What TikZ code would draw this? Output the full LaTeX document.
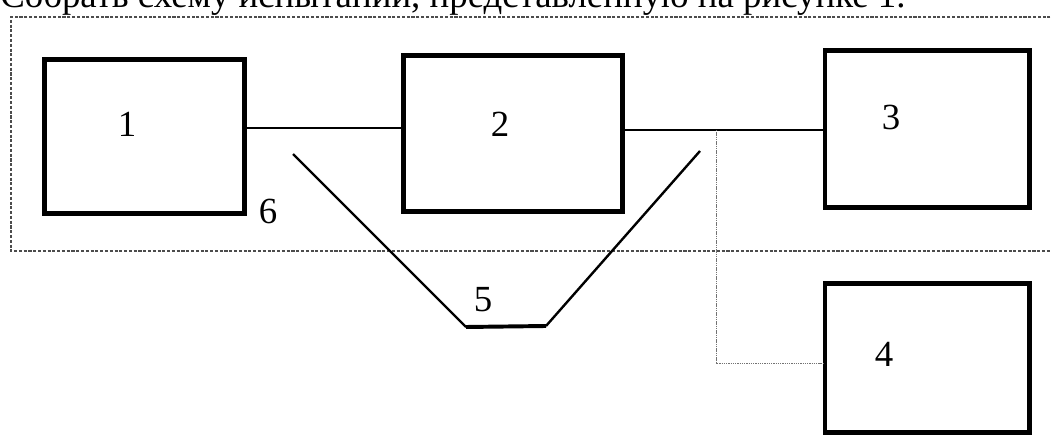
\documentclass[tikz,border=0pt]{standalone}
\usepackage{fontspec}
\setmainfont{Liberation Serif}
\usepackage{xcolor}
\usepackage{tikz}
\usetikzlibrary{calc,positioning}

\begin{document}
\begin{tikzpicture}[
x=0.025cm, y=-0.025cm,
font=\fontsize{26.2}{30}\selectfont,
block/.style={draw, line width=3.5pt, inner sep=0pt, outer sep=0pt},
num/.style={inner sep=0pt},
wire/.style={line width=1.6pt},
cable/.style={line width=1.7pt},
frame/.style={draw=black!70, line width=1pt, dash pattern=on 2.2pt off 1.2pt},
tapline/.style={draw=black!55, line width=0.7pt, dash pattern=on 1pt off 0.6pt}
]
\useasboundingbox (0,0) rectangle (1051,438);
\fill[white] (0,0) rectangle (1051,438);

\node[num, anchor=base west] (task) at (0,8) {Собрать схему испытаний, представленную на рисунке 1.};
\draw[frame] (1060,17) -- (11,17) -- (11,251) -- (1060,251);

\node[block, minimum width=5cm, minimum height=3.85cm] (b1) at (144.5,136.5) {};
\node[block, minimum width=5.475cm, minimum height=3.9cm] (b2) at (513,133.5) {};
\node[block, minimum width=5.1cm, minimum height=3.925cm] (b3) at (927,129) {};
\node[block, minimum width=5.1cm, minimum height=3.725cm] (b4) at (927,358) {};

\node[num] (l1) at (127,124.5) {1};
\node[num] (l2) at (500,124.5) {2};
\node[num] (l3) at (891,117.5) {3};
\node[num] (l4) at (884,354.5) {4};
\node[num] (l5) at (483,300) {5};
\node[num] (l6) at (268,211.5) {6};

% connections
\coordinate (w1) at ($(b1.east)+(0,-8.5)$);
\draw[wire] (w1) -- (w1 -| b2.west);
\coordinate (w2) at ($(b2.east)+(0,-3.5)$);
\draw[wire] (w2) -- (w2 -| b3.west);
\coordinate (tap) at (716,130);
\draw[tapline] (tap) |- ($(b4.west)+(0,5)$);

% cable 5
\coordinate (c1) at (293,154);
\coordinate (c2) at (466,327);
\coordinate (c3) at (546,326);
\coordinate (c4) at (700,151);
\draw[cable] (c1) -- (c2);
\draw[cable, line width=2.8pt] (c2) -- (c3);
\draw[cable] (c3) -- (c4);
\end{tikzpicture}
\end{document}
